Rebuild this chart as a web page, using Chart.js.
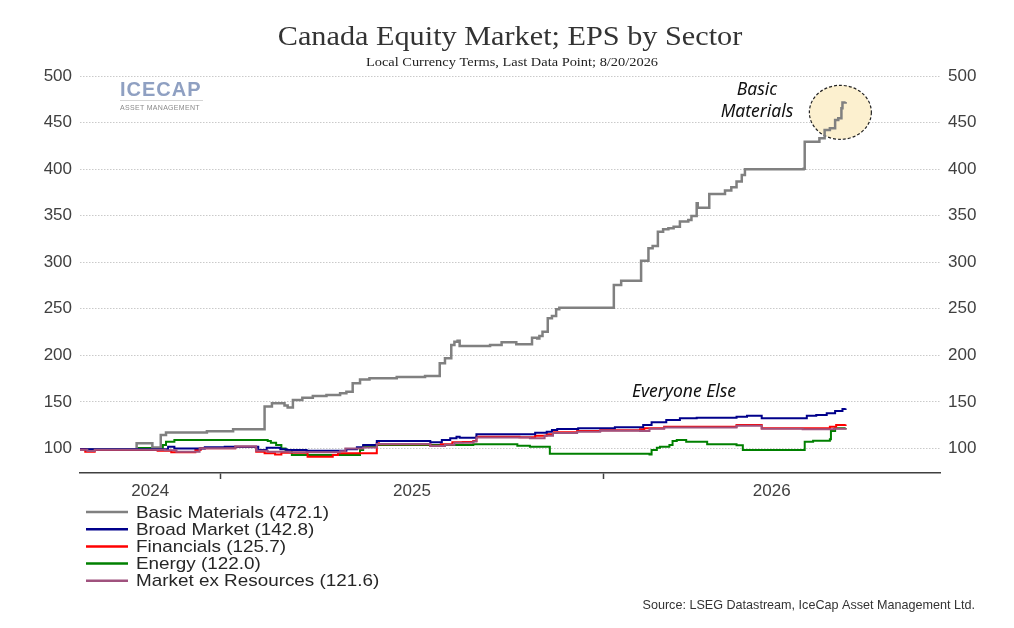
<!DOCTYPE html>
<html>
<head>
<meta charset="utf-8">
<title>Canada Equity Market; EPS by Sector</title>
<script src="https://cdn.jsdelivr.net/npm/chart.js@4.4.1/dist/chart.umd.min.js"></script>
<style>
  html, body { margin: 0; padding: 0; background: #fff; }
  #wrap { width: 1014px; height: 628px; position: relative; }
</style>
</head>
<body>
<div id="wrap"><canvas id="eps-sector"></canvas></div>
<script>
// x values are days counted from the first data point (8/20/2024)
var yearBounds = [0, 134, 499, 820];
var yearLabels = ['2024', '2025', '2026'];
var yTicks = [100, 150, 200, 250, 300, 350, 400, 450, 500];

var seriesNames = ['Basic Materials', 'Broad Market', 'Financials', 'Energy', 'Market ex Resources'];
var seriesColors = ['#808080', '#00008B', '#FF0000', '#008000', '#A0527E'];

// EPS index, each point = day the value changed
var basicDays = [0, 54, 69, 77, 82, 121, 146, 176, 183, 195, 198, 203, 212, 222, 235, 248, 254, 260, 267, 276,
  302, 329, 343, 348, 354, 357, 360, 362, 391, 402, 416, 431, 436, 438, 441, 446, 450, 454, 457, 509,
  516, 535, 542, 546, 551, 556, 561, 566, 572, 580, 583, 588, 589, 600, 615, 621, 626, 631, 634, 690,
  691, 705, 710, 715, 720, 723, 726, 727, 730];
var basicVals = [99, 105.5, 101, 114.5, 117, 118.4, 120.5, 145, 148.4, 146, 144, 152, 154.5, 156.3, 157.4, 159.2, 161, 170, 174, 175.5,
  176.7, 177.8, 191.4, 196.8, 211, 214.7, 215.7, 210, 211, 214, 211.8, 219, 218, 220.8, 225.4, 239.8, 242.3, 249.4, 251.2, 275.6,
  280, 301.7, 315, 317.5, 332.8, 335.4, 336.5, 338.2, 343.6, 345.4, 349.7, 363.3, 358.6, 373.3, 376.9, 380.5, 386.6, 393.8, 399.9, 400.5,
  429.5, 433.2, 442, 443.9, 452.8, 454.6, 465.4, 471.5, 472.1];

var marketDays = [0, 84, 90, 119, 138, 170, 178, 191, 197, 216, 254, 264, 270, 283, 334, 345, 353, 359, 362, 378,
  434, 445, 450, 455, 475, 510, 537, 545, 559, 572, 588, 626, 636, 650, 693, 702, 712, 720, 727, 730];
var marketVals = [99, 101.9, 100, 101.2, 101.9, 98.3, 100.8, 99, 98.3, 97.6, 99, 101.2, 103.7, 108, 106.5, 109, 110.9, 112.6, 111.5, 115.1,
  116.9, 118, 119.8, 120.8, 121.6, 122.7, 125.1, 128, 130.5, 132.3, 133, 134.1, 135.1, 132.3, 135.1, 135.8, 137.7, 140.2, 142.3, 142.8];

var finDays = [0, 5, 14, 74, 87, 110, 115, 148, 168, 176, 186, 192, 217, 241, 246, 283, 285, 334, 344, 355,
  365, 375, 378, 419, 434, 445, 451, 474, 496, 534, 538, 557, 626, 650, 715, 721, 730];
var finVals = [99, 96.5, 98.3, 97.6, 95.8, 98.3, 100.1, 101.9, 96.5, 94.7, 93.6, 95.4, 91.1, 92.9, 94.7, 105.5, 104.4, 103, 104.4, 106.5,
  107, 108, 112.6, 111.9, 113.6, 115.1, 117.3, 118.7, 119.5, 120.5, 121.6, 123.3, 125.1, 121.6, 123.3, 125.1, 125.7];

var energyDays = [0, 55, 79, 82, 90, 171, 179, 182, 187, 192, 196, 202, 264, 267, 270, 282, 375, 417, 429, 448,
  543, 545, 550, 553, 562, 565, 569, 578, 598, 626, 632, 689, 691, 699, 715, 716, 720, 730];
var energyVals = [99.4, 100.4, 103.6, 107.2, 109, 109, 108, 106, 103.7, 100, 98, 92.9, 92.9, 98.3, 102.6, 103.7, 104.4, 103, 101.9, 94.2,
  93.6, 98.3, 100.8, 101.9, 103.7, 108, 109, 107.2, 104.4, 103.5, 98.3, 98.3, 107.2, 108.3, 109.8, 118.7, 121.6, 122];

var mxrDays = [0, 7, 14, 81, 92, 114, 148, 168, 179, 200, 248, 253, 270, 283, 334, 348, 357, 375, 378, 429,
  443, 451, 474, 496, 534, 543, 557, 626, 650, 689, 719, 730];
var mxrVals = [98.5, 97.2, 98.5, 98, 96.5, 100.1, 102, 97.6, 96.5, 95.8, 97, 100, 101, 104.8, 102.5, 104, 106, 107.5, 111.8, 111,
  113.5, 116.5, 118, 119, 118.7, 121, 122.6, 124.3, 121.2, 120.5, 121, 121.6];

function pts(days, vals) {
  return days.map(function (d, i) { return { x: d, y: vals[i] }; });
}

var yearMids = [];
for (var i = 0; i < yearLabels.length; i++) {
  yearMids.push((yearBounds[i] + yearBounds[i + 1]) / 2);
}

var allSeries = [
  pts(basicDays, basicVals),
  pts(marketDays, marketVals),
  pts(finDays, finVals),
  pts(energyDays, energyVals),
  pts(mxrDays, mxrVals)
];
var drawOrder = [4, 2, 3, 5, 1];

// text with a bit of horizontal stretch, like the original export
function wideText(ctx, txt, x, y, sx, align) {
  ctx.save();
  ctx.translate(x, y);
  ctx.scale(sx, 1);
  ctx.textAlign = align;
  ctx.fillText(txt, 0, 0);
  ctx.restore();
}

var extras = {
  id: 'extras',
  beforeDatasetsDraw: function (chart) {
    // highlight around the last Basic Materials points
    var ctx = chart.ctx;
    var cx = chart.scales.x.getPixelForValue(725);
    var cy = chart.scales.y.getPixelForValue(461);
    ctx.save();
    ctx.beginPath();
    ctx.ellipse(cx, cy, 31, 27, 0, 0, Math.PI * 2);
    ctx.fillStyle = '#FCF0CF';
    ctx.fill();
    ctx.setLineDash([3, 2]);
    ctx.lineWidth = 1.2;
    ctx.strokeStyle = '#222';
    ctx.stroke();
    ctx.restore();
  },
  afterDraw: function (chart) {
    var ctx = chart.ctx;
    ctx.save();
    ctx.textBaseline = 'alphabetic';

    // title + subtitle
    ctx.fillStyle = '#333';
    ctx.font = '28px "Liberation Serif"';
    wideText(ctx, 'Canada Equity Market; EPS by Sector', 510, 45, 1.08, 'center');
    ctx.fillStyle = '#222';
    ctx.font = '12px "Liberation Serif"';
    wideText(ctx, 'Local Currency Terms, Last Data Point; 8/20/2026', 512, 66, 1.2, 'center');

    // logo
    ctx.fillStyle = '#8FA0C2';
    ctx.font = 'bold 20px "Liberation Sans"';
    ctx.letterSpacing = '1px';
    ctx.textAlign = 'left';
    ctx.fillText('ICECAP', 120, 96);
    ctx.letterSpacing = '0.3px';
    ctx.fillStyle = '#8A8A8A';
    ctx.font = '7px "Liberation Sans"';
    ctx.fillText('ASSET MANAGEMENT', 120, 110);
    ctx.letterSpacing = '0px';
    ctx.strokeStyle = '#D5D5D5';
    ctx.lineWidth = 1;
    ctx.beginPath();
    ctx.moveTo(120, 100.5);
    ctx.lineTo(203, 100.5);
    ctx.stroke();

    // annotations
    ctx.fillStyle = '#111';
    ctx.font = 'italic 17.5px "Noto Sans"';
    ctx.textAlign = 'center';
    ctx.fillText('Basic', 757, 95);
    ctx.fillText('Materials', 757, 117);
    ctx.fillText('Everyone Else', 684, 397);

    // legend (one per row)
    ctx.font = '17px "Liberation Sans"';
    ctx.textBaseline = 'middle';
    chart.data.datasets.forEach(function (ds, i) {
      var yy = 512 + i * 17.2;
      ctx.strokeStyle = ds.borderColor;
      ctx.lineWidth = 2.5;
      ctx.beginPath();
      ctx.moveTo(86, yy);
      ctx.lineTo(128, yy);
      ctx.stroke();
      ctx.fillStyle = '#262626';
      wideText(ctx, ds.label, 136, yy + 1, 1.11, 'left');
    });

    // source
    ctx.textBaseline = 'alphabetic';
    ctx.fillStyle = '#333';
    ctx.font = '12.6px "Liberation Sans"';
    wideText(ctx, 'Source: LSEG Datastream, IceCap Asset Management Ltd.', 975, 609, 1.0, 'right');
    ctx.restore();
  }
};

var ctx = document.getElementById('eps-sector').getContext('2d');
var chart = new Chart(ctx, {
  type: 'line',
  data: {
    datasets: allSeries.map(function (data, i) {
      return {
        label: seriesNames[i] + ' (' + data[data.length - 1].y.toFixed(1) + ')',
        data: data,
        borderColor: seriesColors[i],
        backgroundColor: seriesColors[i],
        borderWidth: i === 0 ? 2.5 : 2,
        stepped: 'before',
        pointRadius: 0,
        order: drawOrder[i]
      };
    })
  },
  options: {
    responsive: true,
    maintainAspectRatio: false,
    animation: false,
    layout: { padding: { top: 76, left: 0, right: 0, bottom: 0 } },
    plugins: {
      legend: { display: false },
      tooltip: { enabled: false }
    },
    scales: {
      x: {
        type: 'linear',
        min: yearBounds[0],
        max: yearBounds[yearBounds.length - 1],
        afterBuildTicks: function (scale) {
          var vals = yearMids.concat(yearBounds.slice(1, -1)).sort(function (a, b) { return a - b; });
          scale.ticks = vals.map(function (v) { return { value: v }; });
        },
        afterFit: function (scale) { scale.height = 155; },
        ticks: {
          autoSkip: false,
          maxRotation: 0,
          padding: 2,
          color: '#404040',
          font: { family: 'Liberation Sans', size: 17 },
          callback: function (value) {
            var k = yearMids.indexOf(value);
            return k >= 0 ? yearLabels[k] : '';
          }
        },
        grid: {
          drawOnChartArea: false,
          drawTicks: true,
          tickLength: 6,
          tickWidth: 1.5,
          tickColor: function (c) {
            return c.tick && yearMids.indexOf(c.tick.value) < 0 ? '#404040' : 'rgba(0,0,0,0)';
          }
        },
        border: { display: true, color: '#404040', width: 1.5 }
      },
      y: {
        position: 'left',
        min: 73.6,
        max: 500,
        afterBuildTicks: function (scale) {
          scale.ticks = yTicks.map(function (v) { return { value: v }; });
        },
        afterFit: function (scale) { scale.width = 80; },
        ticks: {
          padding: 8,
          color: '#404040',
          font: { family: 'Liberation Sans', size: 17 }
        },
        grid: { color: '#CACACA', lineWidth: 1, drawTicks: false },
        border: { display: false, dash: [1.5, 1.5] }
      },
      y2: {
        position: 'right',
        min: 73.6,
        max: 500,
        afterBuildTicks: function (scale) {
          scale.ticks = yTicks.map(function (v) { return { value: v }; });
        },
        afterFit: function (scale) { scale.width = 74; },
        ticks: {
          padding: 8,
          color: '#404040',
          font: { family: 'Liberation Sans', size: 17 }
        },
        grid: { drawOnChartArea: false, drawTicks: false },
        border: { display: false }
      }
    }
  },
  plugins: [extras]
});
</script>
</body>
</html>
